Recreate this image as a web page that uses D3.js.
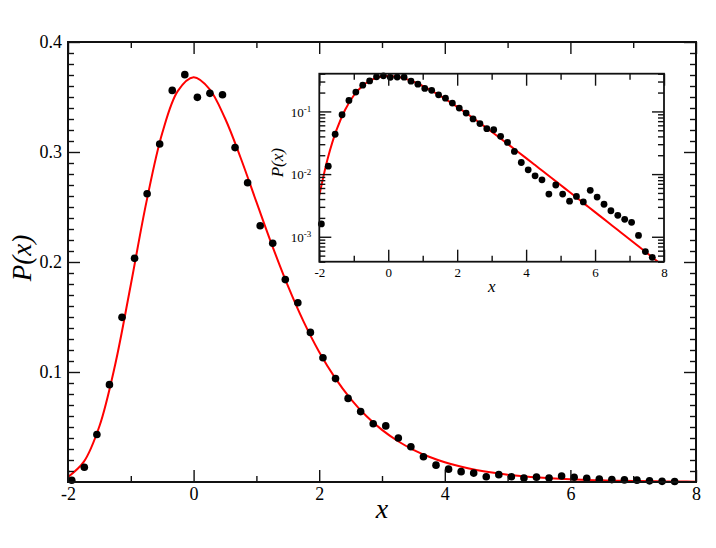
<!DOCTYPE html>
<html>
<head>
<meta charset="utf-8">
<script src="https://cdn.jsdelivr.net/npm/d3@7"></script>
<style>
  html, body { margin: 0; padding: 0; background: #fff; }
  svg { display: block; }
  svg text { font-family: "Liberation Serif", "Times New Roman", Times, "DejaVu Serif", serif !important; fill: #000; }
</style>
</head>
<body>
<svg id="chart" width="716" height="548"></svg>
<script>
// ---- data ----
const dataX = [-1.94, -1.74, -1.54, -1.34, -1.14, -0.94, -0.74, -0.54, -0.34, -0.14,
  0.06, 0.26, 0.46, 0.66, 0.86, 1.06, 1.26, 1.46, 1.66, 1.86,
  2.06, 2.26, 2.46, 2.66, 2.86, 3.06, 3.26, 3.46, 3.66, 3.86,
  4.06, 4.26, 4.46, 4.66, 4.86, 5.06, 5.26, 5.46, 5.66, 5.86,
  6.06, 6.26, 6.46, 6.66, 6.86, 7.06, 7.26, 7.46, 7.66];
const dataP = [0.0016, 0.0134, 0.0432, 0.0885, 0.1497, 0.2033, 0.262, 0.3073, 0.356, 0.3703,
  0.3497, 0.3533, 0.352, 0.304, 0.272, 0.233, 0.217, 0.184, 0.163, 0.136,
  0.113, 0.094, 0.076, 0.064, 0.053, 0.051, 0.040, 0.032, 0.023, 0.0153,
  0.0117, 0.0094, 0.0081, 0.0048, 0.0067, 0.0048, 0.0037, 0.0044, 0.0036, 0.0055,
  0.0043, 0.0033, 0.0026, 0.0022, 0.0019, 0.0017, 0.00105, 0.00058, 0.00047];

// fitted red curve, sampled points
const curveX = [-2, -1.75, -1.5, -1.25, -1, -0.75, -0.5, -0.25, 0, 0.25, 0.5, 0.75, 1, 1.25, 1.5, 1.75,
  2, 2.25, 2.5, 2.75, 3, 3.25, 3.5, 3.75, 4, 4.25, 4.5, 4.75, 5, 5.25, 5.5, 5.75,
  6, 6.25, 6.5, 6.75, 7, 7.25, 7.5, 7.75, 8];
const curveP = [0.00457, 0.01823, 0.0507, 0.1064, 0.17937, 0.25487, 0.31704, 0.35557, 0.36788, 0.35745,
  0.3307, 0.29453, 0.25464, 0.21513, 0.17849, 0.14602, 0.1182, 0.09486, 0.07562, 0.05999,
  0.04737, 0.03729, 0.0293, 0.02298, 0.01799, 0.01406, 0.01098, 0.00858, 0.00669, 0.00522,
  0.00407, 0.00317, 0.00247, 0.00193, 0.0015, 0.00117, 0.000911, 0.00071, 0.000553, 0.000431, 0.000335];

// tick values and labels
const mainXMajor = [-2, 0, 2, 4, 6, 8];
const mainXLabels = ["-2", "0", "2", "4", "6", "8"];
const mainXMinor = [-1, 1, 3, 5, 7];
const mainYMajor = [0.1, 0.2, 0.3, 0.4];
const mainYLabels = ["0.1", "0.2", "0.3", "0.4"];
const mainYMinor = [0.01,0.02,0.03,0.04,0.05,0.06,0.07,0.08,0.09,0.11,0.12,0.13,0.14,0.15,0.16,0.17,0.18,0.19,
  0.21,0.22,0.23,0.24,0.25,0.26,0.27,0.28,0.29,0.31,0.32,0.33,0.34,0.35,0.36,0.37,0.38,0.39];
const insetYMajor = [0.001, 0.01, 0.1];
const insetYMinor = [0.0004,0.0005,0.0006,0.0007,0.0008,0.0009,
  0.002,0.003,0.004,0.005,0.006,0.007,0.008,0.009,
  0.02,0.03,0.04,0.05,0.06,0.07,0.08,0.09,0.2,0.3,0.4];
const insetYLabels = ["-3", "-2", "-1"];

// ---- drawing ----
const SERIF = '"Liberation Serif", "Times New Roman", Times, "DejaVu Serif", serif';
const svg = d3.select("#chart");
const pts = dataX.map((x, i) => ({x, p: dataP[i]}));
const cpts = curveX.map((x, i) => ({x, p: curveP[i]}));
const xLab = (d, i) => mainXLabels[i];
const yLab = (d, i) => mainYLabels[i];

function styleAxis(g) {
  g.attr("font-family", SERIF);
  g.select(".domain").remove();
  g.selectAll(".tick line").attr("stroke", "#111").attr("stroke-width", 1.4);
  g.selectAll("text").style("font-family", SERIF).attr("fill", "#000");
}

// MAIN PLOT
const M = {l: 68, r: 696, t: 42, b: 482};
const x = d3.scaleLinear().domain([-2, 8]).range([M.l, M.r]);
const y = d3.scaleLinear().domain([0, 0.4]).range([M.b, M.t]);

const main = svg.append("g");

main.append("path")
  .datum(cpts)
  .attr("fill", "none").attr("stroke", "#ff0000").attr("stroke-width", 2)
  .attr("d", d3.line().x(d => x(d.x)).y(d => y(d.p)).curve(d3.curveCatmullRom));

main.selectAll("circle.pt").data(pts).join("circle")
  .attr("class", "pt")
  .attr("cx", d => x(d.x)).attr("cy", d => y(d.p)).attr("r", 3.8).attr("fill", "#000");

// axes
main.append("g").attr("transform", `translate(0,${M.b})`)
  .call(d3.axisBottom(x).tickValues(mainXMajor).tickSizeInner(-12).tickSizeOuter(0).tickPadding(5).tickFormat(xLab))
  .call(styleAxis)
  .call(g => g.selectAll("text").attr("font-size", 18));
main.append("g").attr("transform", `translate(0,${M.b})`)
  .call(d3.axisBottom(x).tickValues(mainXMinor).tickSizeInner(-6).tickSizeOuter(0).tickFormat(""))
  .call(styleAxis);
main.append("g").attr("transform", `translate(0,${M.t})`)
  .call(d3.axisTop(x).tickValues(mainXMajor).tickSizeInner(-12).tickSizeOuter(0).tickFormat(""))
  .call(styleAxis);
main.append("g").attr("transform", `translate(0,${M.t})`)
  .call(d3.axisTop(x).tickValues(mainXMinor).tickSizeInner(-6).tickSizeOuter(0).tickFormat(""))
  .call(styleAxis);
main.append("g").attr("transform", `translate(${M.l},0)`)
  .call(d3.axisLeft(y).tickValues(mainYMajor).tickSizeInner(-12).tickSizeOuter(0).tickPadding(6).tickFormat(yLab))
  .call(styleAxis)
  .call(g => g.selectAll("text").attr("font-size", 18));
main.append("g").attr("transform", `translate(${M.l},0)`)
  .call(d3.axisLeft(y).tickValues(mainYMinor).tickSizeInner(-6).tickSizeOuter(0).tickFormat(""))
  .call(styleAxis);
main.append("g").attr("transform", `translate(${M.r},0)`)
  .call(d3.axisRight(y).tickValues(mainYMajor).tickSizeInner(-12).tickSizeOuter(0).tickFormat(""))
  .call(styleAxis);
main.append("g").attr("transform", `translate(${M.r},0)`)
  .call(d3.axisRight(y).tickValues(mainYMinor).tickSizeInner(-6).tickSizeOuter(0).tickFormat(""))
  .call(styleAxis);

main.append("rect")
  .attr("x", M.l).attr("y", M.t).attr("width", M.r - M.l).attr("height", M.b - M.t)
  .attr("fill", "none").attr("stroke", "#111").attr("stroke-width", 2);

main.append("text")
  .attr("x", (M.l + M.r) / 2).attr("y", 518)
  .attr("text-anchor", "middle").attr("font-size", 28).attr("font-style", "italic")
  .style("font-family", SERIF)
  .text("x");
main.append("text")
  .attr("transform", `translate(31,${(M.t + M.b) / 2 - 4}) rotate(-90)`)
  .attr("text-anchor", "middle").attr("font-size", 27).attr("font-style", "italic")
  .style("font-family", SERIF)
  .text("P(x)");

// INSET
const I = {l: 319.3, r: 664, t: 73.7, b: 261.7};
const xi = d3.scaleLinear().domain([-2, 8]).range([I.l, I.r]);
const yi = d3.scaleLog().domain([0.0004, 0.4]).range([I.b, I.t]);

const inset = svg.append("g");
inset.append("rect")
  .attr("x", I.l).attr("y", I.t).attr("width", I.r - I.l).attr("height", I.b - I.t)
  .attr("fill", "#fff");

svg.append("defs").append("clipPath").attr("id", "insetClip")
  .append("rect").attr("x", I.l).attr("y", I.t).attr("width", I.r - I.l).attr("height", I.b - I.t);

const plotI = inset.append("g").attr("clip-path", "url(#insetClip)");
plotI.append("path")
  .datum(cpts)
  .attr("fill", "none").attr("stroke", "#ff0000").attr("stroke-width", 2)
  .attr("d", d3.line().x(d => xi(d.x)).y(d => yi(d.p)).curve(d3.curveCatmullRom));
inset.selectAll("circle.ipt").data(pts).join("circle")
  .attr("class", "ipt")
  .attr("cx", d => xi(d.x)).attr("cy", d => yi(d.p)).attr("r", 3.4).attr("fill", "#000");

inset.append("g").attr("transform", `translate(0,${I.b})`)
  .call(d3.axisBottom(xi).tickValues(mainXMajor).tickSizeInner(-12).tickSizeOuter(0).tickPadding(6.5).tickFormat(xLab))
  .call(styleAxis)
  .call(g => g.selectAll("text").attr("font-size", 13));
inset.append("g").attr("transform", `translate(0,${I.b})`)
  .call(d3.axisBottom(xi).tickValues(mainXMinor).tickSizeInner(-6).tickSizeOuter(0).tickFormat(""))
  .call(styleAxis);
inset.append("g").attr("transform", `translate(0,${I.t})`)
  .call(d3.axisTop(xi).tickValues(mainXMajor).tickSizeInner(-12).tickSizeOuter(0).tickFormat(""))
  .call(styleAxis);
inset.append("g").attr("transform", `translate(0,${I.t})`)
  .call(d3.axisTop(xi).tickValues(mainXMinor).tickSizeInner(-6).tickSizeOuter(0).tickFormat(""))
  .call(styleAxis);
inset.append("g").attr("transform", `translate(${I.l},0)`)
  .call(d3.axisLeft(yi).tickValues(insetYMajor).tickSizeInner(-12).tickSizeOuter(0).tickPadding(8).tickFormat(""))
  .call(styleAxis)
  .call(g => g.selectAll(".tick").each(function(d, i) {
    const t = d3.select(this).append("text")
      .attr("x", -8).attr("dy", "0.36em").attr("text-anchor", "end")
      .attr("font-size", 13).attr("fill", "#000")
      .style("font-family", SERIF);
    t.append("tspan").text("10");
    t.append("tspan").attr("dy", "-0.5em").attr("font-size", 9).text(insetYLabels[i]);
  }));
inset.append("g").attr("transform", `translate(${I.l},0)`)
  .call(d3.axisLeft(yi).tickValues(insetYMinor).tickSizeInner(-6).tickSizeOuter(0).tickFormat(""))
  .call(styleAxis);
inset.append("g").attr("transform", `translate(${I.r},0)`)
  .call(d3.axisRight(yi).tickValues(insetYMajor).tickSizeInner(-12).tickSizeOuter(0).tickFormat(""))
  .call(styleAxis);
inset.append("g").attr("transform", `translate(${I.r},0)`)
  .call(d3.axisRight(yi).tickValues(insetYMinor).tickSizeInner(-6).tickSizeOuter(0).tickFormat(""))
  .call(styleAxis);

inset.append("rect")
  .attr("x", I.l).attr("y", I.t).attr("width", I.r - I.l).attr("height", I.b - I.t)
  .attr("fill", "none").attr("stroke", "#111").attr("stroke-width", 1.8);

inset.append("text")
  .attr("x", (I.l + I.r) / 2).attr("y", 292)
  .attr("text-anchor", "middle").attr("font-size", 17).attr("font-style", "italic")
  .style("font-family", SERIF)
  .text("x");
inset.append("text")
  .attr("transform", `translate(283,${(I.t + I.b) / 2 - 5}) rotate(-90)`)
  .attr("text-anchor", "middle").attr("font-size", 17).attr("font-style", "italic")
  .style("font-family", SERIF)
  .text("P(x)");
</script>
</body>
</html>
